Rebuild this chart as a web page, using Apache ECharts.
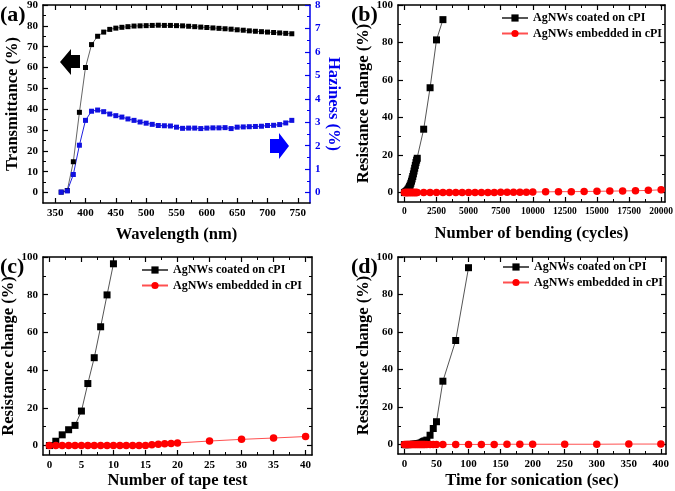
<!DOCTYPE html>
<html>
<head>
<meta charset="utf-8">
<script src="https://cdn.jsdelivr.net/npm/echarts@6/dist/echarts.min.js"></script>
<style>
html, body { margin: 0; padding: 0; background: #fff; }
#chart { width: 675px; height: 491px; }
</style>
</head>
<body>
<div id="chart"></div>
<script>
// (a) transmittance + haziness vs wavelength
const waveNm = [360, 370, 380, 390, 400, 410, 420, 430, 440, 450, 460, 470, 480, 490, 500, 510, 520, 530, 540, 550,
  560, 570, 580, 590, 600, 610, 620, 630, 640, 650, 660, 670, 680, 690, 700, 710, 720, 730, 740]
const transmittance = [0.2, 1.0, 14.8, 38.5, 60, 71, 75, 77, 78.3, 78.9, 79.3, 79.6, 79.9, 80.0, 80.1, 80.2, 80.3, 80.2, 80.2, 80.1,
  80.0, 79.8, 79.6, 79.4, 79.2, 79.0, 78.8, 78.6, 78.4, 78.1, 77.9, 77.6, 77.4, 77.2, 77.0, 76.8, 76.6, 76.4, 76.2]
const haziness = [0.02, 0.07, 0.77, 2.02, 3.08, 3.47, 3.52, 3.45, 3.35, 3.28, 3.22, 3.14, 3.08, 3.01, 2.96, 2.91, 2.86, 2.85, 2.84, 2.79,
  2.74, 2.75, 2.75, 2.73, 2.75, 2.76, 2.76, 2.77, 2.73, 2.79, 2.8, 2.81, 2.82, 2.83, 2.86, 2.87, 2.9, 2.97, 3.08]
const waveTicks = [350, 400, 450, 500, 550, 600, 650, 700, 750]
const transTicks = [0, 10, 20, 30, 40, 50, 60, 70, 80, 90]
const hazeTicks = [0, 1, 2, 3, 4, 5, 6, 7, 8]

// (b) bending test
const bendCoatedX = [0, 50, 100, 150, 200, 250, 300, 350, 400, 450, 500, 550, 600, 650, 700, 750, 800, 850, 900, 950, 1000,
  1500, 2000, 2500, 3000]
const bendCoatedY = [0, 0.2, 0.4, 0.7, 1.0, 1.4, 1.9, 2.5, 3.2, 4.0, 5.0, 6.1, 7.3, 8.6, 10.0, 11.5, 13.0, 14.5, 16.0, 17.3, 18.3,
  33.8, 55.9, 81.4, 92.2]
const bendEmbeddedX = [0, 50, 100, 150, 200, 250, 300, 350, 400, 450, 500, 550, 600, 650, 700, 750, 800, 850, 900, 950, 1000,
  1500, 2000, 2500, 3000, 3500, 4000, 4500, 5000, 5500, 6000, 6500, 7000, 7500, 8000, 8500, 9000, 9500, 10000,
  11000, 12000, 13000, 14000, 15000, 16000, 17000, 18000, 19000, 20000]
const bendEmbeddedY = [0, 0, 0, 0, 0, 0, 0, 0, 0, 0, 0, 0, 0, 0, 0, 0, 0, 0, 0, 0, 0,
  0, 0, 0, 0, 0, 0.1, 0.1, 0.1, 0.1, 0.1, 0.1, 0.1, 0.2, 0.2, 0.2, 0.2, 0.2, 0.3,
  0.4, 0.5, 0.5, 0.6, 0.7, 0.8, 0.9, 1.0, 1.2, 1.5]
const bendTicks = [0, 2500, 5000, 7500, 10000, 12500, 15000, 17500, 20000]
const resTicks = [0, 20, 40, 60, 80, 100]

// (c) tape test
const tapeCoatedX = [0, 1, 2, 3, 4, 5, 6, 7, 8, 9, 10]
const tapeCoatedY = [0, 2.3, 5.7, 8.4, 10.7, 18.3, 32.9, 46.6, 63, 79.9, 96.4]
const tapeEmbeddedX = [0, 1, 2, 3, 4, 5, 6, 7, 8, 9, 10, 11, 12, 13, 14, 15, 16, 17, 18, 19, 20, 25, 30, 35, 40]
const tapeEmbeddedY = [0, 0, 0, 0, 0, 0, 0, 0, 0, 0, 0, 0, 0, 0, 0, 0.1, 0.5, 0.7, 0.9, 1.1, 1.4, 2.4, 3.3, 4.0, 4.8]
const tapeTicks = [0, 5, 10, 15, 20, 25, 30, 35, 40]

// (d) sonication
const sonicCoatedX = [0, 2, 4, 6, 8, 10, 12, 14, 16, 18, 20, 22, 24, 26, 28, 30, 32, 35, 40, 45, 50, 60, 80, 100]
const sonicCoatedY = [0, 0, 0, 0, 0.1, 0.1, 0.1, 0.2, 0.2, 0.3, 0.4, 0.5, 0.7, 0.9, 1.3, 1.7, 2.0, 2.4, 5.0, 8.6, 12.2, 33.8, 55.5, 94.3]
const sonicEmbeddedX = [0, 2, 4, 6, 8, 10, 12, 14, 16, 18, 20, 22, 24, 26, 28, 30, 32, 35, 40, 45, 50,
  60, 80, 100, 120, 140, 160, 180, 200, 250, 300, 350, 400]
const sonicEmbeddedY = [0, 0, 0, 0, 0, 0, 0, 0, 0, 0, 0, 0, 0, 0, 0, 0, 0, 0, 0, 0, 0,
  0.1, 0.1, 0.1, 0.1, 0.1, 0.2, 0.2, 0.2, 0.2, 0.2, 0.3, 0.3]
const sonicTicks = [0, 50, 100, 150, 200, 250, 300, 350, 400]

const FONT = '"Liberation Serif", "Times New Roman", serif'
const COATED = 'AgNWs coated on cPI'
const EMBEDDED = 'AgNWs embedded in cPI'
const BLUE = '#0000ee'

const grids = [
  { left: 43, top: 5, width: 267, height: 198 },
  { left: 398, top: 5, width: 267, height: 197 },
  { left: 43, top: 257, width: 269, height: 198 },
  { left: 398, top: 257, width: 268, height: 197 }
].map(g => Object.assign({ outerBoundsMode: 'none', containLabel: false }, g))

const xAxes = []
const yAxes = []

function halfSteps(ticks, min, max) {
  const step = ticks[1] - ticks[0]
  const out = []
  ticks.forEach(t => out.push(t - step / 2))
  out.push(ticks[ticks.length - 1] + step / 2)
  return out.filter(v => v > min && v < max)
}

// one side of the frame: line + major ticks (+ labels/name), plus a tick-only axis for minor ticks
function side(list, grid, pos, min, max, ticks, look) {
  look = look || {}
  const color = look.color || '#000'
  const vertical = pos === 'left' || pos === 'right'
  list.push({
    type: 'value', gridIndex: grid, position: pos, min: min, max: max,
    axisLine: { show: true, onZero: false, lineStyle: { color: color, width: 1.5 } },
    axisTick: { show: true, inside: true, length: 5, customValues: ticks, lineStyle: { color: color, width: 1.2 } },
    axisLabel: {
      show: !!look.labels, customValues: ticks, color: color, margin: 5,
      fontFamily: FONT, fontWeight: 'bold', fontSize: look.fontSize || 11,
      formatter: v => String(v)
    },
    splitLine: { show: false },
    name: look.name || '',
    nameLocation: 'middle',
    nameGap: look.nameGap || 20,
    nameRotate: vertical ? (pos === 'right' ? -90 : 90) : 0,
    nameTextStyle: { color: color, fontFamily: FONT, fontWeight: 'bold', fontSize: 16.5 }
  })
  const main = list.length - 1
  list.push({
    type: 'value', gridIndex: grid, position: pos, min: min, max: max,
    axisLine: { show: false, onZero: false },
    axisTick: { show: true, inside: true, length: 3, customValues: halfSteps(ticks, min, max), lineStyle: { color: color, width: 1 } },
    axisLabel: { show: false },
    splitLine: { show: false }
  })
  return main
}

// (a)
const ax = side(xAxes, 0, 'bottom', 330, 770, waveTicks, { labels: true, name: 'Wavelength (nm)', nameGap: 23 })
side(xAxes, 0, 'top', 330, 770, waveTicks)
const ayT = side(yAxes, 0, 'left', -5, 90, transTicks, { labels: true, name: 'Transmittance (%)', nameGap: 22 })
const ayH = side(yAxes, 0, 'right', -0.4444, 8, hazeTicks, { labels: true, color: BLUE, name: 'Haziness (%)', nameGap: 15 })
// (b)
const bx = side(xAxes, 1, 'bottom', -500, 20300, bendTicks, { labels: true, fontSize: 9.5, name: 'Number of bending (cycles)', nameGap: 23 })
side(xAxes, 1, 'top', -500, 20300, bendTicks)
const by = side(yAxes, 1, 'left', -5, 100, resTicks, { labels: true, name: 'Resistance change (%)', nameGap: 22 })
side(yAxes, 1, 'right', -5, 100, resTicks)
// (c)
const cx = side(xAxes, 2, 'bottom', -1, 41, tapeTicks, { labels: true, name: 'Number of tape test', nameGap: 16 })
side(xAxes, 2, 'top', -1, 41, tapeTicks)
const cy = side(yAxes, 2, 'left', -5, 100, resTicks, { labels: true, name: 'Resistance change (%)', nameGap: 19 })
side(yAxes, 2, 'right', -5, 100, resTicks)
// (d)
const dx = side(xAxes, 3, 'bottom', -10, 408, sonicTicks, { labels: true, name: 'Time for sonication (sec)', nameGap: 18 })
side(xAxes, 3, 'top', -10, 408, sonicTicks)
const dy = side(yAxes, 3, 'left', -5, 100, resTicks, { labels: true, name: 'Resistance change (%)', nameGap: 21 })
side(yAxes, 3, 'right', -5, 100, resTicks)

function pts(xs, ys) {
  return xs.map((x, i) => [x, ys[i]])
}

function coated(xi, yi, xs, ys, size) {
  return {
    name: COATED, type: 'line', xAxisIndex: xi, yAxisIndex: yi, data: pts(xs, ys),
    symbol: 'rect', symbolSize: size, showAllSymbol: true,
    itemStyle: { color: '#000' }, lineStyle: { color: '#555', width: 1 }
  }
}

function embedded(xi, yi, xs, ys) {
  return {
    name: EMBEDDED, type: 'line', xAxisIndex: xi, yAxisIndex: yi, data: pts(xs, ys),
    symbol: 'circle', symbolSize: 7.5, showAllSymbol: true,
    itemStyle: { color: '#ff0000' }, lineStyle: { color: '#ff5050', width: 1 }
  }
}

const series = [
  {
    name: 'Transmittance', type: 'line', xAxisIndex: ax, yAxisIndex: ayT, data: pts(waveNm, transmittance),
    symbol: 'rect', symbolSize: 5, showAllSymbol: true,
    itemStyle: { color: '#000' }, lineStyle: { color: '#666', width: 1 }
  },
  {
    name: 'Haziness', type: 'line', xAxisIndex: ax, yAxisIndex: ayH, data: pts(waveNm, haziness),
    symbol: 'rect', symbolSize: 5, showAllSymbol: true,
    itemStyle: { color: '#1010e0' }, lineStyle: { color: '#2020e0', width: 1 }
  },
  coated(bx, by, bendCoatedX, bendCoatedY, 7),
  embedded(bx, by, bendEmbeddedX, bendEmbeddedY),
  coated(cx, cy, tapeCoatedX, tapeCoatedY, 7),
  embedded(cx, cy, tapeEmbeddedX, tapeEmbeddedY),
  coated(dx, dy, sonicCoatedX, sonicCoatedY, 7),
  embedded(dx, dy, sonicEmbeddedX, sonicEmbeddedY)
]

function legendAt(left, top) {
  return {
    data: [COATED, EMBEDDED], left: left, top: top, orient: 'vertical', padding: 0,
    itemWidth: 26, itemHeight: 9, itemGap: 3.5, selectedMode: false,
    textStyle: { fontFamily: FONT, fontWeight: 'bold', fontSize: 12, color: '#000' }
  }
}

function panelLabel(text, left, top) {
  return {
    type: 'text', left: left, top: top,
    style: { text: text, font: 'bold 22px ' + FONT, fill: '#000' }
  }
}

const chart = echarts.init(document.getElementById('chart'), null, { renderer: 'canvas' })
chart.setOption({
  backgroundColor: '#fff',
  animation: false,
  grid: grids,
  xAxis: xAxes,
  yAxis: yAxes,
  legend: [legendAt(501, 12), legendAt(141, 264), legendAt(502, 261)],
  series: series,
  graphic: [
    panelLabel('(a)', 0, 4),
    panelLabel('(b)', 351, 4),
    panelLabel('(c)', 0, 256),
    panelLabel('(d)', 351, 256),
    {
      type: 'polygon',
      shape: { points: [[60, 62], [71, 49], [71, 55], [80, 55], [80, 68], [71, 68], [71, 75]] },
      style: { fill: '#000' }
    },
    {
      type: 'polygon',
      shape: { points: [[289, 146], [279, 133], [279, 139], [270, 139], [270, 153], [279, 153], [279, 159]] },
      style: { fill: '#0000ff' }
    }
  ]
})
</script>
</body>
</html>
